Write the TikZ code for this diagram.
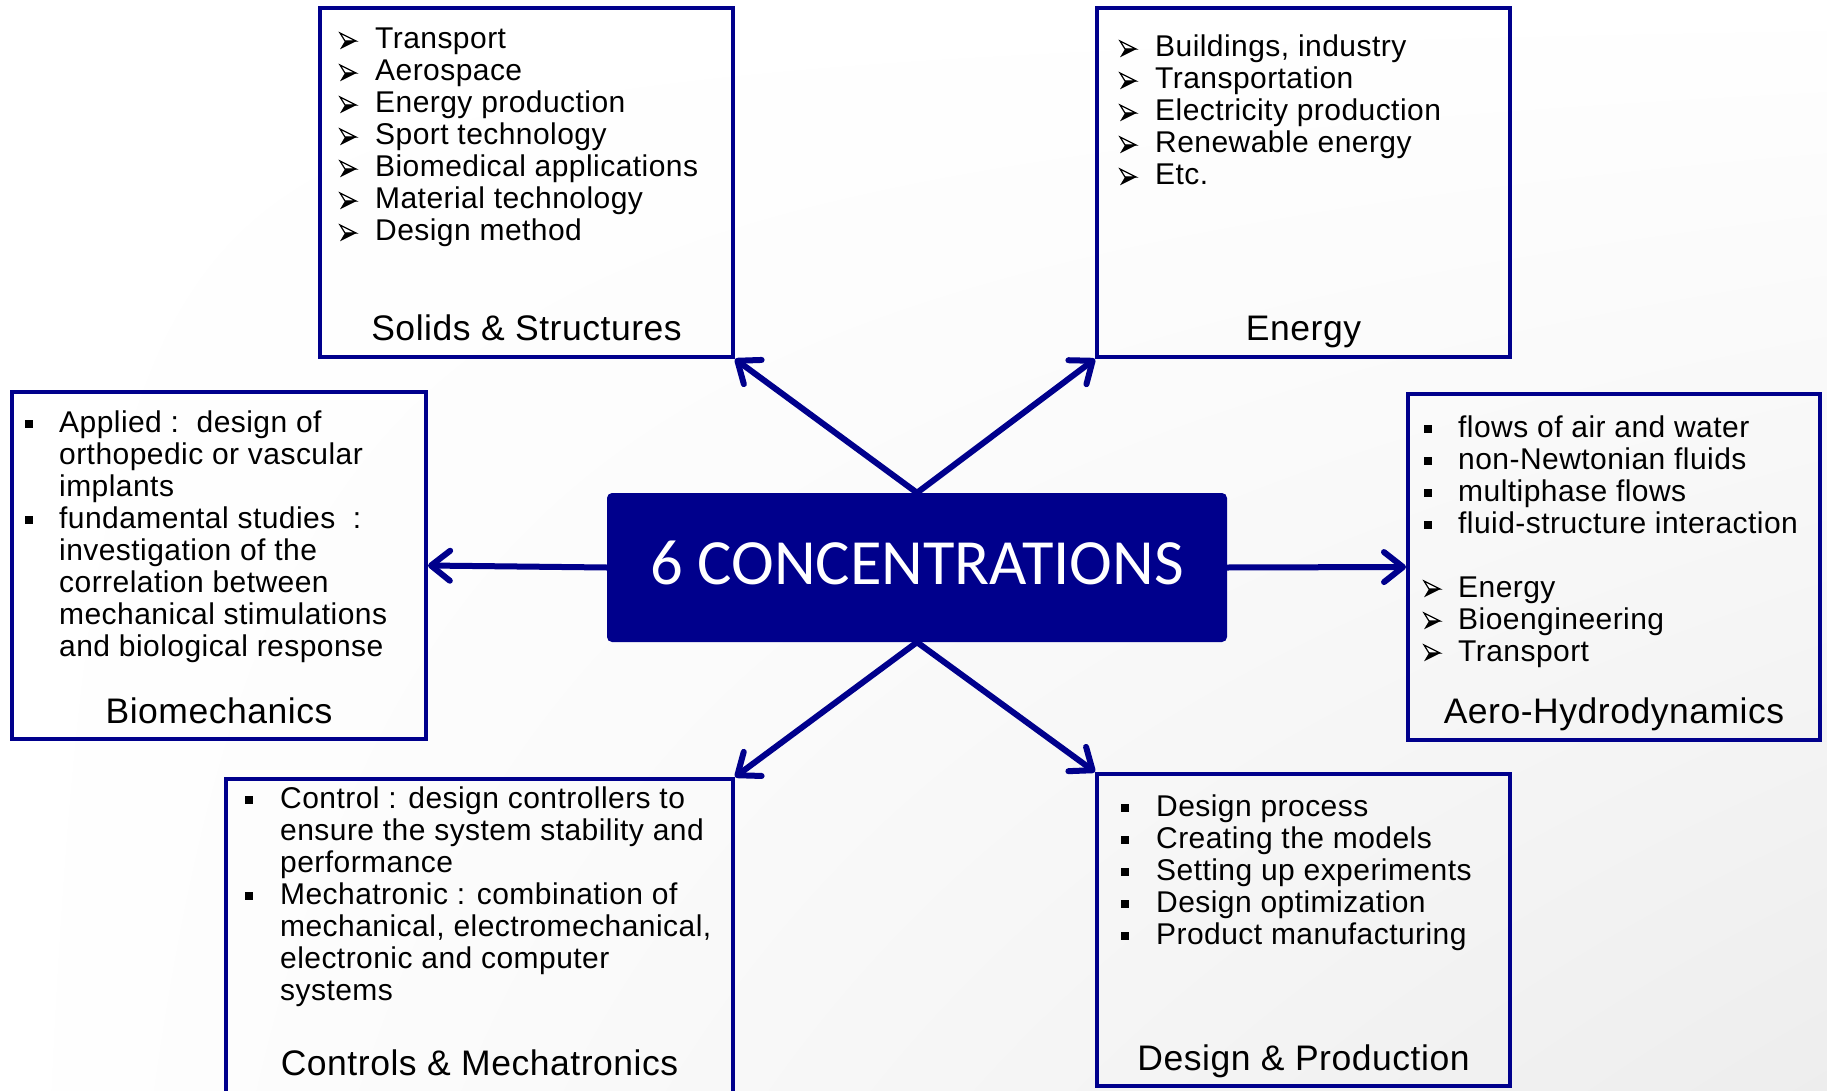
\documentclass[tikz,border=0pt]{standalone}
\usepackage{fontspec}
\setmainfont{Liberation Sans}[LetterSpace=1.5]
\newfontfamily\titlefont{Carlito}
\usetikzlibrary{arrows.meta,shadings}
\definecolor{navy}{RGB}{0,0,140}

\begin{document}
\begin{tikzpicture}[x=1pt,y=-1pt,
  area/.style={draw=navy, line width=4pt, inner sep=0pt},
  hub/.style={fill=navy, rounded corners=5pt, inner sep=0pt},
  item/.style={anchor=base west, inner sep=0pt, font=\fontsize{30}{32}\selectfont},
  heading/.style={anchor=base, inner sep=0pt, font=\fontsize{35.5}{40}\selectfont},
  squarebullet/.style={anchor=base west, inner sep=0pt},
  spoke/.style={draw=navy, line width=6pt, line cap=round,
    -{Straight Barb[length=19pt, width=30pt, round]}},
  % three-dimensional arrowhead bullet, drawn from its left middle point
  arrowmark/.pic={
    \filldraw[fill=white, draw=black, line width=1.2pt, line join=miter]
      (0,-8) -- (16,0) -- (5,0) -- cycle;
    \fill[black] (5,0) -- (16.6,0) -- (0,8.3) -- cycle;
  }]

% page and soft background
\useasboundingbox (0,0) rectangle (1827,1091);
\clip (0,0) rectangle (1827,1091);
\shade[upper left=white, upper right=white, lower left=white, lower right=black!7]
  (0,0) rectangle (1827,1091);

% central node
\node[hub, minimum width=620pt, minimum height=149pt] (hub) at (917,567.5) {};
\node[anchor=base, inner sep=0pt, text=white, font=\titlefont\fontsize{64.5}{70}\selectfont]
  (hubtext) at (917,584) {6 CONCENTRATIONS};

% the six concentration frames
\node[area, minimum width=413pt, minimum height=349pt] (solids) at (526.5,182.5) {};
\node[area, minimum width=413pt, minimum height=349pt] (energy) at (1303.5,182.5) {};
\node[area, minimum width=414pt, minimum height=347pt] (bio) at (219,565.5) {};
\node[area, minimum width=412pt, minimum height=346pt] (aero) at (1614,567) {};
\node[area, minimum width=507pt, minimum height=330pt] (ctrl) at (479.5,944) {};
\node[area, minimum width=413pt, minimum height=312pt] (design) at (1303.5,930) {};

% Solids & Structures
\foreach \txt [count=\i from 0] in {Transport, Aerospace, Energy production,
    Sport technology, Biomedical applications, Material technology, Design method} {
  \pic at (340,41+32*\i) {arrowmark};
  \node[item] (st\i) at (375,49+32*\i) {\txt};
}
\node[heading] (solidshead) at (526.5,340) {Solids \& Structures};

% Energy
\foreach \txt [count=\i from 0] in {{Buildings, industry}, Transportation,
    Electricity production, Renewable energy, Etc.} {
  \pic at (1120,49+32*\i) {arrowmark};
  \node[item] (et\i) at (1155,57+32*\i) {\txt};
}
\node[heading] (energyhead) at (1303.5,340) {Energy};

% Biomechanics
\node[squarebullet] (bb0) at (25,432) {\rule[4.5pt]{8pt}{8pt}};
\node[squarebullet] (bb1) at (25,528) {\rule[4.5pt]{8pt}{8pt}};
\foreach \txt [count=\i from 0] in {Applied :\ \ design of, orthopedic or vascular,
    implants, fundamental studies\ \ :, investigation of the, correlation between,
    mechanical stimulations, and biological response} {
  \node[item] (bt\i) at (59,432+32*\i) {\txt};
}
\node[heading] (biohead) at (219,723) {Biomechanics};

% Aero-Hydrodynamics
\foreach \txt [count=\i from 0] in {flows of air and water, non-Newtonian fluids,
    multiphase flows, fluid-structure interaction} {
  \node[squarebullet] (ab\i) at (1424,437+32*\i) {\rule[4.5pt]{8pt}{8pt}};
  \node[item] (at\i) at (1458,437+32*\i) {\txt};
}
\foreach \txt [count=\i from 0] in {Energy, Bioengineering, Transport} {
  \pic at (1424,589+32*\i) {arrowmark};
  \node[item] (au\i) at (1458,597+32*\i) {\txt};
}
\node[heading] (aerohead) at (1614,723) {Aero-Hydrodynamics};

% Controls & Mechatronics
\node[squarebullet] (cb0) at (245,808) {\rule[4.5pt]{8pt}{8pt}};
\node[squarebullet] (cb1) at (245,904) {\rule[4.5pt]{8pt}{8pt}};
\foreach \txt [count=\i from 0] in {Control : design controllers to,
    ensure the system stability and, performance, Mechatronic : combination of,
    {mechanical, electromechanical,}, electronic and computer, systems} {
  \node[item] (ct\i) at (280,808+32*\i) {\txt};
}
\node[heading] (ctrlhead) at (479.5,1075) {Controls \& Mechatronics};

% Design & Production
\foreach \txt [count=\i from 0] in {Design process, Creating the models,
    Setting up experiments, Design optimization, Product manufacturing} {
  \node[squarebullet] (db\i) at (1121,816+32*\i) {\rule[4.5pt]{8pt}{8pt}};
  \node[item] (dt\i) at (1156,816+32*\i) {\txt};
}
\node[heading] (designhead) at (1303.5,1070) {Design \& Production};

% spokes from the central node
\draw[spoke] (hub.north) -- (solids.south east);
\draw[spoke] (hub.north) -- (energy.south west);
\draw[spoke] (hub.west) -- (bio.east);
\draw[spoke] (hub.east) -- (aero.west);
\draw[spoke] (hub.south) -- (ctrl.north east);
\draw[spoke] (hub.south) -- (design.north west);
\end{tikzpicture}
\end{document}
